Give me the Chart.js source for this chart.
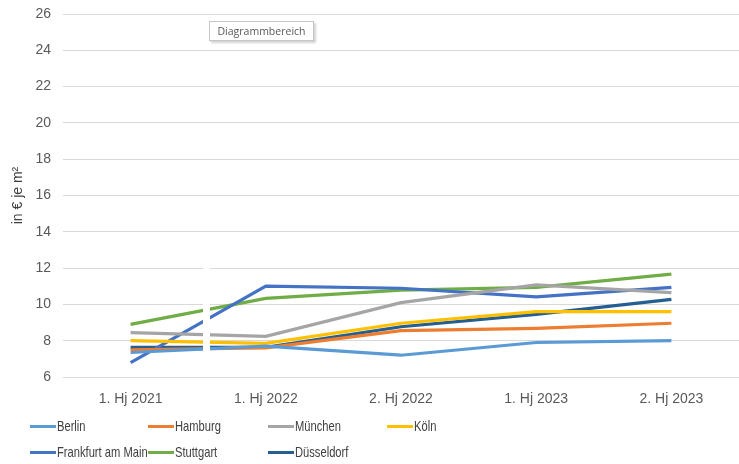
<!DOCTYPE html>
<html lang="de">
<head>
<meta charset="UTF-8">
<title>Mieten je m²</title>
<style>
  body { margin: 0; background: #fff; }
  .wrap { position: relative; width: 739px; height: 464px; }
  .legend { position: absolute; left: 30px; top: 416px; display: grid;
            grid-template-columns: 118px 120px 119px 119px; row-gap: 6px;
            font: 14.5px "Liberation Sans", Arial, sans-serif; color: #404040; }
  .legend div { display: flex; align-items: center; height: 20px; white-space: nowrap; }
  .legend span.swatch { display: inline-block; flex: 0 0 26px; width: 26px; height: 3px; margin-right: 1px; }
  .legend span.name { display: inline-block; transform: scaleX(0.77); transform-origin: left center; }
  .tip { position: absolute; left: 209px; top: 21px; width: 103px; height: 18px; border: 1px solid #c6c6c6;
         box-shadow: 2px 2px 2px rgba(0,0,0,0.18); font: 10.5px "Open Sans", sans-serif; color: #595959;
         line-height: 18px; text-align: center; background: #fff; }
</style>
</head>
<body>
<div class="wrap">
  <canvas id="chart" width="739" height="464"></canvas>
  <div class="tip">Diagrammbereich</div>
  <div class="legend" id="legend"></div>
</div>
<script src="https://cdn.jsdelivr.net/npm/chart.js@4.4.1/dist/chart.umd.min.js"></script>
<script>
  var periods = ['1. Hj 2021', '1. Hj 2022', '2. Hj 2022', '1. Hj 2023', '2. Hj 2023'];
  var cities = ['Berlin', 'Hamburg', 'München', 'Köln', 'Frankfurt am Main', 'Stuttgart', 'Düsseldorf'];
  var colors = ['#5b9bd5', '#ed7d31', '#a5a5a5', '#ffc000', '#4472c4', '#70ad47', '#255e91'];

  var berlin     = [7.35, 7.7, 7.2, 7.9, 8.0];
  var hamburg    = [7.5, 7.6, 8.55, 8.68, 8.96];
  var muenchen   = [8.44, 8.24, 10.1, 11.07, 10.65];
  var koeln      = [8.0, 7.85, 8.96, 9.6, 9.6];
  var frankfurt  = [6.79, 11.01, 10.89, 10.42, 10.94];
  var stuttgart  = [8.9, 10.33, 10.79, 10.94, 11.67];
  var duesseldorf = [7.63, 7.63, 8.77, 9.45, 10.28];

  var series = [berlin, hamburg, muenchen, koeln, frankfurt, stuttgart, duesseldorf];

  // white break in the picture between the first two periods
  var gapPlugin = {
    id: 'gap',
    afterDatasetsDraw: function (chart) {
      var ctx = chart.ctx;
      var y = chart.scales.y;
      ctx.save();
      ctx.fillStyle = '#fff';
      ctx.fillRect(203, y.getPixelForValue(12.3), 7, y.getPixelForValue(6.9) - y.getPixelForValue(12.3));
      ctx.restore();
    }
  };

  var ctx = document.getElementById('chart').getContext('2d');
  var chart = new Chart(ctx, {
    type: 'line',
    data: {
      labels: periods,
      datasets: cities.map(function (name, i) {
        return {
          label: name,
          data: series[i],
          borderColor: colors[i],
          backgroundColor: colors[i],
          borderWidth: 3.2,
          pointRadius: 0,
          tension: 0
        };
      })
    },
    options: {
      responsive: false,
      animation: false,
      layout: { padding: { top: 14, right: 0, bottom: 0, left: 0 } },
      plugins: { legend: { display: false }, tooltip: { enabled: false } },
      scales: {
        x: {
          offset: true,
          grid: { display: false },
          border: { display: false },
          ticks: { color: '#595959', font: { family: 'Liberation Sans', size: 14 }, padding: 6 },
          afterFit: function (s) { s.height = 87; }
        },
        y: {
          min: 6, max: 26,
          ticks: { stepSize: 2, color: '#595959', font: { family: 'Liberation Sans', size: 14 }, padding: 12 },
          grid: { color: '#d9d9d9', drawTicks: false },
          border: { display: false },
          title: { display: true, text: 'in € je m²', color: '#404040', font: { family: 'Liberation Sans', size: 14 }, padding: { top: 10, bottom: 0 } },
          afterFit: function (s) { s.width = 63; s.paddingTop = 0; s.paddingBottom = 0; }
        }
      }
    },
    plugins: [gapPlugin]
  });

  var legend = document.getElementById('legend');
  cities.forEach(function (name, i) {
    var item = document.createElement('div');
    item.innerHTML = '<span class="swatch" style="background:' + colors[i] + '"></span><span class="name">' + name + '</span>';
    legend.appendChild(item);
  });
</script>
</body>
</html>
